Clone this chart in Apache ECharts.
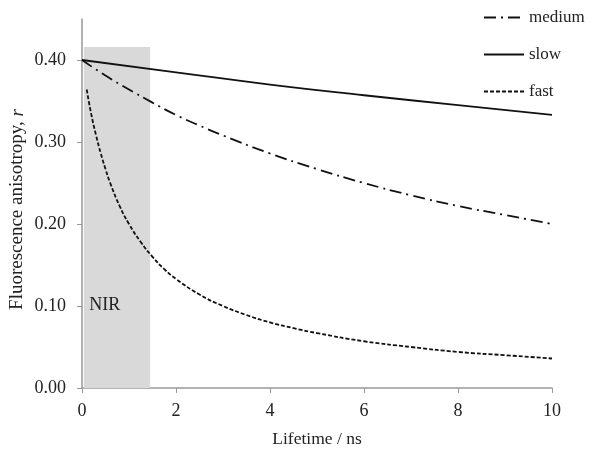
<!DOCTYPE html>
<html><head><meta charset="utf-8">
<script src="https://cdn.jsdelivr.net/npm/echarts@6/dist/echarts.min.js"></script>
<style>html,body{margin:0;padding:0;background:#fff}#c{width:600px;height:456px}</style>
</head><body><div id="c"></div>
<script>
const fastX = [0.1,0.2,0.3,0.4,0.5,0.6,0.8,1,1.25,1.5,1.75,2,2.5,3,3.5,4,4.5,5,6,7,8,9,10];
const fastY = [0.364,0.333,0.308,0.286,0.267,0.250,0.222,0.200,0.178,0.160,0.145,0.133,0.114,0.100,0.089,0.080,0.073,0.067,0.057,0.050,0.044,0.040,0.036];
const medX = [0,0.5,1,1.5,2,2.5,3,4,5,6,7,8,9,10];
const medY = [0.400,0.381,0.364,0.348,0.333,0.320,0.308,0.286,0.267,0.250,0.235,0.222,0.211,0.200];
const slowX = [0,2,4,6,8,10];
const slowY = [0.400,0.385,0.370,0.357,0.345,0.333];
const xTicks = [0,2,4,6,8,10];
const yTicks = [0,0.1,0.2,0.3,0.4];
const nirBand = [0.04, 1.45, 0, 0.416];

const zip = (xs, ys) => xs.map((x, i) => [x, ys[i]]);
const font = 'Liberation Serif';
const chart = echarts.init(document.getElementById('c'));
chart.setOption({
  animation: false,
  backgroundColor: '#fff',
  textStyle: { fontFamily: font },
  grid: { left: 82, right: 48, top: 19, bottom: 68, containLabel: false, outerBoundsMode: 'none' },
  legend: {
    orient: 'vertical', left: 478, top: 4, itemGap: 20, itemWidth: 40, itemHeight: 17,
    data: ['medium', 'slow', 'fast'],
    itemStyle: { opacity: 0 },
    textStyle: { fontFamily: font, fontSize: 17, color: '#222' }
  },
  xAxis: {
    type: 'value', min: 0, max: 10, interval: 2,
    name: 'Lifetime / ns', nameLocation: 'middle', nameGap: 42, nameMoveOverlap: false,
    nameTextStyle: { fontFamily: font, fontSize: 17.5, color: '#222' },
    axisLine: { show: true, lineStyle: { color: '#999', width: 1.5 } },
    axisTick: { show: true, length: 5, lineStyle: { color: '#999' } },
    axisLabel: { fontFamily: font, fontSize: 18, color: '#222', margin: 14, customValues: xTicks },
    splitLine: { show: false }
  },
  yAxis: {
    type: 'value', min: 0, max: 0.45,
    name: '{a|Fluorescence anisotropy, }{i|r}', nameLocation: 'middle', nameGap: 55, nameRotate: 90,
    nameMoveOverlap: false,
    nameTextStyle: { padding: [0, 12, 0, 0], rich: {
      a: { fontFamily: font, fontSize: 19, color: '#222' },
      i: { fontFamily: font, fontSize: 19, color: '#222', fontStyle: 'italic' } } },
    axisLine: { show: true, lineStyle: { color: '#999', width: 1.5 } },
    axisTick: { show: true, length: 5, lineStyle: { color: '#999' }, customValues: yTicks },
    axisLabel: { fontFamily: font, fontSize: 18, color: '#222', margin: 16, customValues: yTicks,
      formatter: v => v.toFixed(2) },
    splitLine: { show: false }
  },
  series: [
    {
      name: 'medium', type: 'line', data: zip(medX, medY), smooth: true, symbol: 'none', z: 3,
      lineStyle: { color: '#111', width: 1.8, type: [12, 5, 2, 5] }, itemStyle: { color: '#111' },
      markArea: {
        silent: true, z: 1,
        itemStyle: { color: '#d9d9d9' },
        label: { show: true, formatter: 'NIR', position: ['8%', '73%'], fontFamily: font, fontSize: 18, color: '#222' },
        data: [[{ xAxis: nirBand[0], yAxis: nirBand[2] }, { xAxis: nirBand[1], yAxis: nirBand[3] }]]
      }
    },
    {
      name: 'slow', type: 'line', data: zip(slowX, slowY), smooth: true, symbol: 'none', z: 3,
      lineStyle: { color: '#111', width: 1.8, type: 'solid' }, itemStyle: { color: '#111' }
    },
    {
      name: 'fast', type: 'line', data: zip(fastX, fastY), smooth: true, symbol: 'none', z: 3,
      lineStyle: { color: '#111', width: 1.8, type: [4, 2] }, itemStyle: { color: '#111' }
    }
  ]
});
</script></body></html>
